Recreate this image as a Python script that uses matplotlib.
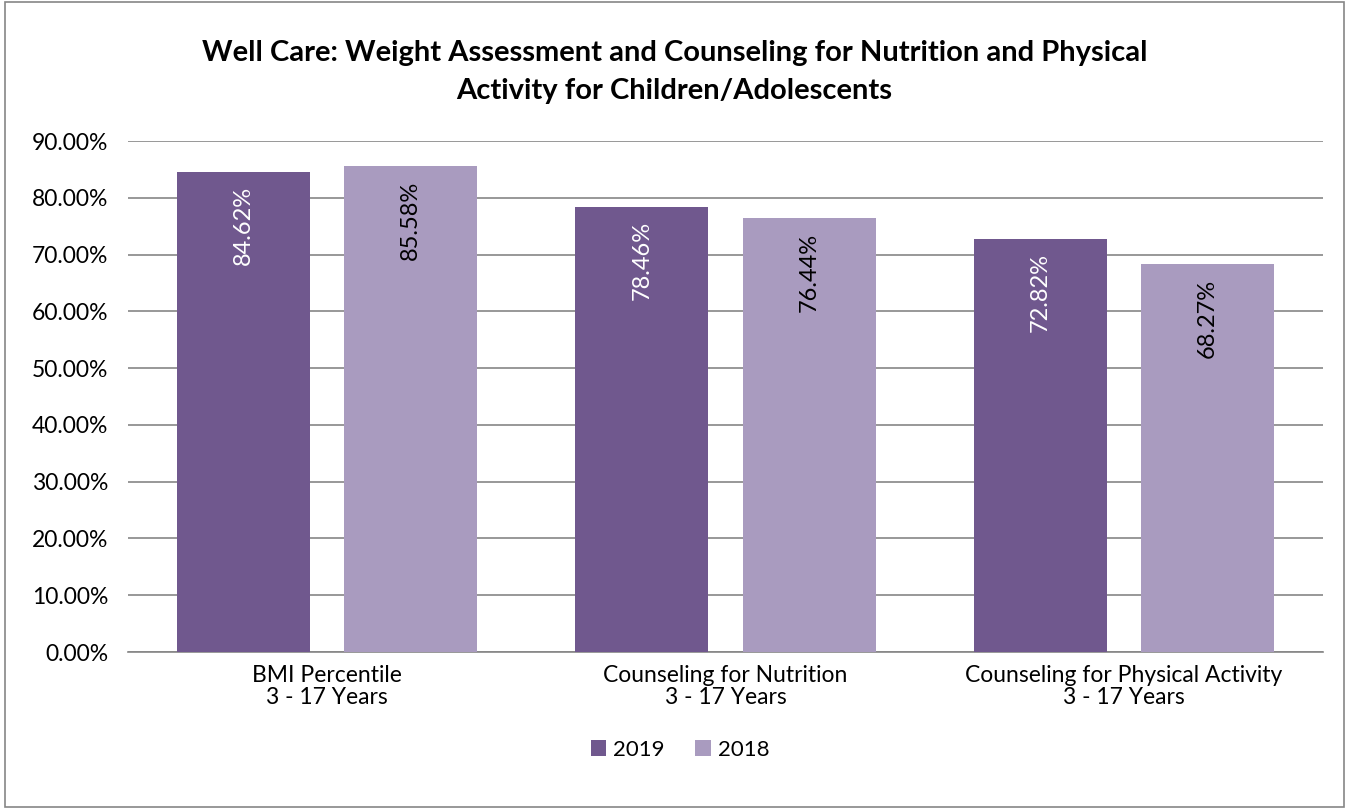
import numpy as np
import matplotlib.pyplot as plt
from matplotlib.patches import Rectangle

plt.rcParams['font.family'] = ['Lato', 'DejaVu Sans']

categories = ["BMI Percentile\n3 - 17 Years",
              "Counseling for Nutrition\n3 - 17 Years",
              "Counseling for Physical Activity\n3 - 17 Years"]
years = ["2019", "2018"]
values_2019 = [84.62, 78.46, 72.82]
values_2018 = [85.58, 76.44, 68.27]

colors = ["#70588E", "#A99BBF"]
label_colors = ["white", "black"]

fig = plt.figure(figsize=(13.49, 8.09), dpi=100)
ax = fig.add_axes([0.0949, 0.194, 0.8858, 0.6317])

x = np.arange(len(categories))
width = 0.334
offsets = [-0.21, 0.21]

for vals, off, col, tcol, name in zip([values_2019, values_2018], offsets, colors, label_colors, years):
    bars = ax.bar(x + off, vals, width, color=col, label=name, zorder=3)
    for b, v in zip(bars, vals):
        ax.text(b.get_x() + b.get_width() / 2, v - 2.6, f"{v:.2f}%",
                rotation=90, ha='center', va='top', color=tcol, fontsize=17, zorder=4)

ax.set_xlim(-0.5, 2.5)
ax.set_ylim(0, 90)
ax.set_yticks(np.arange(0, 91, 10))
ax.set_yticklabels([f"{t:.2f}%" for t in np.arange(0, 91, 10)], fontsize=16.5)
ax.set_xticks(x)
ax.set_xticklabels(categories, fontsize=16.5, linespacing=1.1)
ax.tick_params(axis='y', length=0, pad=14)
ax.tick_params(axis='x', length=0, pad=9)
ax.grid(axis='y', color='#868686', linewidth=1.2, zorder=0)
for s in ['top', 'right', 'left']:
    ax.spines[s].set_visible(False)
ax.spines['bottom'].set_color('#868686')
ax.spines['bottom'].set_linewidth(1.2)

fig.text(0.5, 0.911, "Well Care: Weight Assessment and Counseling for Nutrition and Physical\nActivity for Children/Adolescents",
         ha='center', va='center', fontsize=21, fontweight='bold', linespacing=1.6)

fig.legend(loc='center', bbox_to_anchor=(0.504, 0.073), ncol=2, frameon=False,
           fontsize=16, handlelength=0.7, handleheight=0.7, handletextpad=0.3, columnspacing=1.4)

# outer frame
fig.patches.append(Rectangle((0.004, 0.003), 0.992, 0.994, transform=fig.transFigure,
                             fill=False, edgecolor='#868686', linewidth=1.2))

fig.savefig("out.png", dpi=100)
